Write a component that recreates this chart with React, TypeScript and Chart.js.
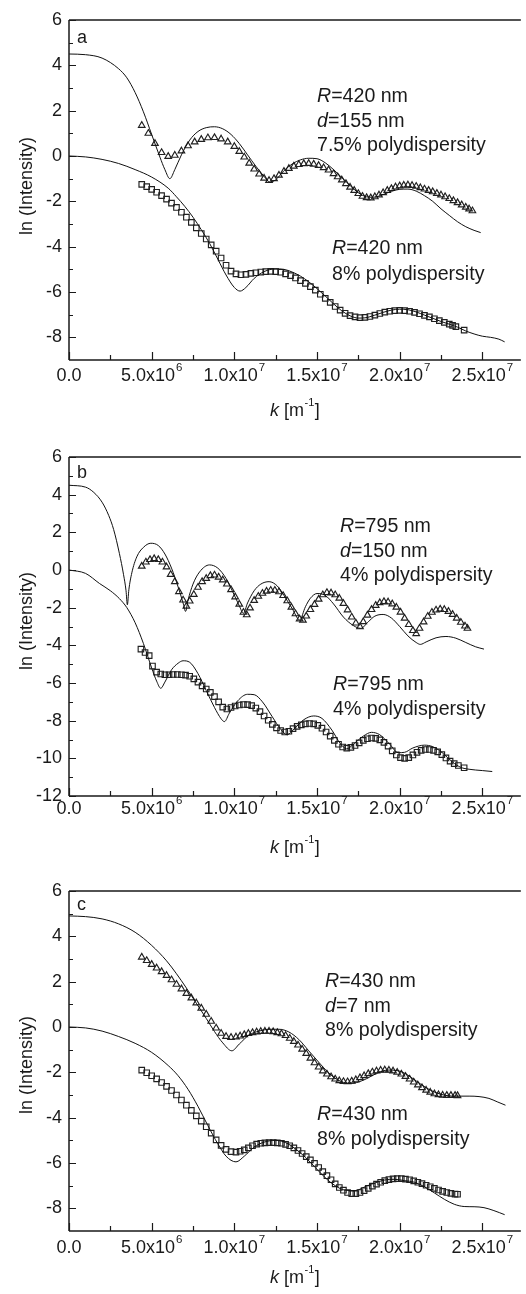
import React, { useEffect, useRef } from "react";
import { Chart, registerables } from "chart.js";

Chart.register(...registerables);

const FONT = "'Liberation Sans', Arial, Helvetica, sans-serif";
const INK = "#1a1a1a";
const K_UNIT = 1e6; // k arrays below are in units of 1e6 m^-1

// ---------- axis ticks ----------
const xTickValues = [0, 5e6, 1e7, 1.5e7, 2e7, 2.5e7];
const xTickBase = ["0.0", "5.0x10", "1.0x10", "1.5x10", "2.0x10", "2.5x10"];
const xTickExp = ["", "6", "7", "7", "7", "7"];
const xMinorValues = [2.5e6, 7.5e6, 1.25e7, 1.75e7, 2.25e7];
const yTicksAC = [-8, -6, -4, -2, 0, 2, 4, 6];
const yMinorAC = [-7, -5, -3, -1, 1, 3, 5];
const yTicksB = [-12, -10, -8, -6, -4, -2, 0, 2, 4, 6];
const yMinorB = [-11, -9, -7, -5, -3, -1, 1, 3, 5];

// ---------- panel a ----------
const kLineA1 = [0,1,2,3,3.5,4,4.5,5,5.5,5.8,6.1,6.4,6.8,7.3,7.8,8.3,8.8,9.3,9.8,10.3,10.8,11.3,11.8,12.15,12.5,13,13.5,14,14.5,15,15.5,16,16.5,17,17.5,18,18.4,19,19.5,20,20.5,21,21.5,22,22.5,23,23.5,24,24.5,24.9];
const lnLineA1 = [4.5,4.47,4.32,3.85,3.45,2.8,1.95,0.95,-0.05,-0.6,-1.0,-0.6,0.05,0.7,1.08,1.25,1.29,1.2,0.95,0.55,0.05,-0.45,-0.9,-1.15,-1.05,-0.65,-0.35,-0.17,-0.1,-0.12,-0.3,-0.6,-0.95,-1.3,-1.62,-1.8,-1.82,-1.7,-1.56,-1.47,-1.46,-1.55,-1.75,-2.0,-2.33,-2.62,-2.9,-3.12,-3.28,-3.38];
const kLineA2 = [0,1,2,3,4,5,6,6.5,7,7.5,8,8.5,9,9.5,10,10.35,10.7,11.2,11.8,12.5,13,13.5,14,14.5,15,15.5,16,16.5,17,17.5,17.9,18.5,19,19.5,20,20.5,21,21.5,22,22.5,23,23.5,24,24.5,25,25.5,26,26.35];
const lnLineA2 = [0,-0.04,-0.15,-0.33,-0.6,-0.93,-1.42,-1.8,-2.22,-2.7,-3.25,-3.85,-4.55,-5.25,-5.8,-5.96,-5.8,-5.4,-5.1,-4.98,-5.0,-5.12,-5.3,-5.55,-5.85,-6.18,-6.52,-6.83,-7.05,-7.15,-7.14,-7.02,-6.9,-6.8,-6.76,-6.78,-6.88,-7.02,-7.16,-7.3,-7.42,-7.55,-7.72,-7.85,-7.95,-8.0,-8.08,-8.2];
const kTriA = [4.4,4.8,5.2,5.6,6.0,6.4,6.8,7.2,7.6,8.0,8.4,8.8,9.2,9.6,10.0,10.3,10.6,10.9,11.2,11.5,11.8,12.1,12.4,12.7,13.0,13.3,13.6,13.9,14.2,14.5,14.8,15.1,15.4,15.7,16.0,16.25,16.5,16.75,17.0,17.25,17.5,17.75,18.0,18.25,18.5,18.75,19.0,19.25,19.5,19.75,20.0,20.25,20.5,20.75,21.0,21.25,21.5,21.75,22.0,22.25,22.5,22.75,23.0,23.25,23.5,23.75,24.0,24.2,24.4];
const lnTriA = [1.35,1.0,0.55,0.15,-0.02,0.03,0.22,0.45,0.62,0.73,0.8,0.81,0.75,0.62,0.42,0.2,-0.05,-0.32,-0.58,-0.8,-0.98,-1.08,-1.0,-0.85,-0.68,-0.55,-0.45,-0.38,-0.34,-0.33,-0.36,-0.42,-0.52,-0.62,-0.78,-0.92,-1.06,-1.22,-1.38,-1.52,-1.66,-1.78,-1.84,-1.85,-1.8,-1.72,-1.62,-1.52,-1.44,-1.37,-1.32,-1.29,-1.28,-1.3,-1.34,-1.4,-1.46,-1.52,-1.58,-1.65,-1.72,-1.8,-1.88,-1.97,-2.06,-2.16,-2.26,-2.34,-2.42];
const kSqA = [4.4,4.7,5.0,5.3,5.6,5.9,6.2,6.5,6.8,7.1,7.4,7.7,8.0,8.3,8.6,8.9,9.2,9.5,9.8,10.1,10.4,10.7,11.0,11.3,11.6,11.9,12.2,12.5,12.8,13.1,13.4,13.7,14.0,14.3,14.6,14.9,15.2,15.5,15.8,16.1,16.4,16.7,17.0,17.3,17.6,17.9,18.2,18.5,18.8,19.1,19.4,19.7,20.0,20.3,20.6,20.9,21.2,21.5,21.8,22.1,22.4,22.7,23.0,23.2,23.4,23.9];
const lnSqA = [-1.25,-1.35,-1.47,-1.6,-1.75,-1.9,-2.08,-2.27,-2.48,-2.7,-2.93,-3.17,-3.42,-3.66,-3.92,-4.2,-4.5,-4.82,-5.08,-5.2,-5.24,-5.22,-5.18,-5.15,-5.12,-5.1,-5.09,-5.1,-5.13,-5.2,-5.28,-5.38,-5.5,-5.62,-5.76,-5.92,-6.1,-6.28,-6.46,-6.64,-6.8,-6.94,-7.04,-7.1,-7.13,-7.12,-7.08,-7.02,-6.95,-6.89,-6.85,-6.82,-6.81,-6.82,-6.85,-6.9,-6.96,-7.03,-7.1,-7.18,-7.26,-7.34,-7.42,-7.47,-7.53,-7.68];

// ---------- panel b ----------
const kLineB1 = [0,1,1.5,2,2.4,2.7,3.05,3.3,3.45,3.53,3.62,3.8,4.1,4.5,4.95,5.4,5.8,6.2,6.6,6.9,7.05,7.2,7.5,7.9,8.5,9.0,9.5,9.9,10.3,10.55,10.8,11.2,11.6,12.1,12.6,13.0,13.5,13.95,14.3,14.6,15.0,15.5,16.0,16.6,17.2,17.65,18.1,18.5,19.0,19.5,20.0,20.5,21.0,21.25,21.6,22.2,22.8,23.4,24.0,24.6,25.1];
const lnLineB1 = [4.5,4.4,4.12,3.6,2.9,2.15,0.87,-0.25,-1.1,-1.85,-1.05,-0.15,0.7,1.2,1.42,1.3,0.85,0.1,-0.9,-1.75,-2.2,-1.6,-0.75,-0.1,0.27,0.1,-0.45,-1.15,-1.9,-2.3,-1.75,-1.1,-0.75,-0.62,-0.85,-1.35,-2.05,-2.65,-1.95,-1.5,-1.25,-1.35,-1.8,-2.5,-2.95,-3.1,-2.75,-2.45,-2.36,-2.55,-3.0,-3.5,-3.85,-3.95,-3.82,-3.6,-3.53,-3.62,-3.85,-4.08,-4.2];
const kLineB2 = [0,1,1.85,2.5,3.05,3.5,4.0,4.5,5.0,5.3,5.55,5.8,6.2,6.6,6.9,7.3,7.8,8.3,8.8,9.2,9.4,9.7,10.2,10.8,11.2,11.7,12.3,12.8,13.2,13.6,14.2,14.8,15.3,15.9,16.4,16.8,17.2,17.8,18.3,18.8,19.4,19.9,20.3,20.8,21.5,22.0,22.6,23.2,23.7,24.2,25.0,25.6];
const lnLineB2 = [0,-0.18,-0.72,-1.1,-1.52,-2.0,-2.8,-3.9,-5.2,-5.9,-6.28,-5.95,-5.3,-4.95,-4.82,-4.9,-5.5,-6.4,-7.3,-7.9,-8.05,-7.6,-6.95,-6.6,-6.62,-7.0,-7.8,-8.45,-8.75,-8.45,-7.95,-7.75,-7.88,-8.5,-9.2,-9.5,-9.25,-8.82,-8.62,-8.75,-9.25,-9.7,-9.68,-9.45,-9.3,-9.38,-9.72,-10.2,-10.48,-10.58,-10.65,-10.7];
const kTriB = [4.40,4.65,4.90,5.15,5.40,5.65,5.90,6.15,6.40,6.65,6.90,7.10,7.30,7.55,7.80,8.05,8.30,8.55,8.80,9.05,9.30,9.55,9.80,10.05,10.30,10.55,10.75,10.95,11.20,11.45,11.70,11.95,12.20,12.45,12.70,12.95,13.20,13.45,13.70,13.95,14.15,14.35,14.60,14.85,15.10,15.35,15.60,15.85,16.10,16.35,16.60,16.85,17.10,17.35,17.60,17.80,18.05,18.30,18.55,18.80,19.05,19.30,19.55,19.80,20.05,20.30,20.55,20.80,21.00,21.20,21.45,21.70,21.95,22.20,22.45,22.70,22.95,23.20,23.45,23.70,23.95,24.10];
const lnTriB = [0.20,0.42,0.55,0.60,0.55,0.42,0.16,-0.24,-0.62,-1.15,-1.60,-1.92,-1.65,-1.30,-0.92,-0.62,-0.45,-0.30,-0.27,-0.38,-0.53,-0.75,-1.05,-1.43,-1.82,-2.25,-2.38,-2.02,-1.62,-1.40,-1.24,-1.13,-1.08,-1.08,-1.16,-1.36,-1.64,-1.98,-2.33,-2.60,-2.67,-2.45,-2.10,-1.83,-1.55,-1.32,-1.20,-1.22,-1.32,-1.50,-1.78,-2.12,-2.50,-2.82,-3.02,-2.75,-2.40,-2.10,-1.88,-1.74,-1.68,-1.70,-1.80,-1.98,-2.24,-2.56,-2.90,-3.22,-3.38,-3.10,-2.76,-2.46,-2.25,-2.13,-2.08,-2.10,-2.20,-2.36,-2.56,-2.78,-2.98,-3.10];
const kSqB = [4.35,4.6,4.85,5.05,5.3,5.55,5.8,6.05,6.3,6.55,6.8,7.05,7.3,7.55,7.8,8.05,8.3,8.55,8.8,9.05,9.3,9.55,9.8,10.05,10.3,10.55,10.8,11.05,11.3,11.55,11.8,12.05,12.3,12.55,12.8,13.05,13.3,13.55,13.8,14.05,14.3,14.55,14.8,15.05,15.3,15.55,15.8,16.05,16.3,16.55,16.8,17.05,17.3,17.55,17.8,18.05,18.3,18.55,18.8,19.05,19.3,19.55,19.8,20.05,20.3,20.55,20.8,21.05,21.3,21.55,21.8,22.05,22.3,22.55,22.8,23.05,23.3,23.55,23.9];
const lnSqB = [-4.2,-4.38,-4.55,-5.1,-5.42,-5.52,-5.56,-5.56,-5.55,-5.55,-5.56,-5.58,-5.64,-5.78,-5.95,-6.15,-6.32,-6.5,-6.72,-7.0,-7.28,-7.38,-7.3,-7.22,-7.17,-7.14,-7.15,-7.2,-7.33,-7.52,-7.75,-7.98,-8.2,-8.38,-8.52,-8.6,-8.56,-8.42,-8.3,-8.22,-8.17,-8.15,-8.17,-8.25,-8.4,-8.6,-8.82,-9.05,-9.25,-9.4,-9.46,-9.42,-9.32,-9.18,-9.05,-8.96,-8.92,-8.94,-9.02,-9.15,-9.35,-9.6,-9.82,-9.96,-10.0,-9.96,-9.82,-9.68,-9.58,-9.53,-9.53,-9.58,-9.66,-9.8,-9.98,-10.15,-10.28,-10.38,-10.5];

// ---------- panel c ----------
const kLineC1 = [0,1,2,3,4,5,5.9,6.5,7.1,7.7,8.3,8.8,9.3,9.85,10.3,10.9,11.5,12.2,12.7,13.3,13.9,14.5,15.1,15.7,16.3,16.9,17.4,18.0,18.6,19.3,19.9,20.4,21.0,21.6,22.2,22.8,23.5,24.2,24.8,25.4,25.9,26.4];
const lnLineC1 = [4.9,4.87,4.77,4.55,4.18,3.6,2.92,2.35,1.72,1.05,0.38,-0.2,-0.7,-1.05,-0.75,-0.35,-0.18,-0.1,-0.1,-0.22,-0.55,-1.05,-1.55,-2.02,-2.35,-2.48,-2.45,-2.28,-2.05,-1.9,-1.93,-2.08,-2.38,-2.68,-2.9,-3.02,-3.05,-3.05,-3.07,-3.15,-3.3,-3.45];
const kLineC2 = [0,1,2,3,4,5,6,6.6,7.2,7.8,8.4,9.0,9.5,10.1,10.6,11.2,11.8,12.5,13.1,13.7,14.3,14.9,15.5,16.1,16.7,17.3,17.9,18.5,19.1,19.7,20.3,20.9,21.5,22.1,22.7,23.3,23.9,24.5,25.1,25.7,26.35];
const lnLineC2 = [0,-0.04,-0.18,-0.42,-0.72,-1.12,-1.7,-2.15,-2.75,-3.5,-4.35,-5.15,-5.7,-5.95,-5.7,-5.3,-5.08,-5.0,-5.1,-5.38,-5.75,-6.2,-6.65,-7.0,-7.2,-7.22,-7.05,-6.88,-6.75,-6.72,-6.78,-6.85,-7.05,-7.32,-7.6,-7.82,-7.92,-7.93,-7.97,-8.1,-8.28];
const kMarkC = [4.4,4.7,5.0,5.3,5.6,5.9,6.2,6.5,6.8,7.1,7.4,7.7,8.0,8.3,8.6,8.9,9.2,9.5,9.8,10.1,10.35,10.6,10.85,11.1,11.35,11.6,11.85,12.1,12.35,12.6,12.85,13.1,13.35,13.6,13.85,14.1,14.35,14.6,14.85,15.1,15.35,15.6,15.85,16.1,16.35,16.6,16.85,17.1,17.35,17.6,17.85,18.1,18.35,18.6,18.85,19.1,19.35,19.6,19.85,20.1,20.35,20.6,20.85,21.1,21.35,21.6,21.85,22.1,22.35,22.6,22.85,23.1,23.35,23.5];
const lnTriC = [3.08,2.93,2.76,2.6,2.44,2.27,2.08,1.88,1.68,1.48,1.28,1.06,0.83,0.56,0.25,-0.05,-0.28,-0.42,-0.46,-0.44,-0.4,-0.34,-0.29,-0.25,-0.22,-0.2,-0.19,-0.19,-0.21,-0.25,-0.3,-0.38,-0.5,-0.64,-0.8,-0.98,-1.17,-1.38,-1.58,-1.77,-1.94,-2.08,-2.2,-2.3,-2.37,-2.41,-2.42,-2.39,-2.33,-2.24,-2.15,-2.06,-1.99,-1.94,-1.91,-1.9,-1.91,-1.94,-2.0,-2.08,-2.18,-2.3,-2.43,-2.56,-2.68,-2.79,-2.88,-2.95,-2.99,-3.01,-3.02,-3.02,-3.02,-3.03];
const lnSqC = [-1.9,-2.02,-2.15,-2.29,-2.45,-2.62,-2.8,-3.0,-3.22,-3.45,-3.68,-3.92,-4.15,-4.4,-4.68,-4.98,-5.22,-5.4,-5.5,-5.52,-5.48,-5.42,-5.33,-5.24,-5.17,-5.13,-5.11,-5.1,-5.1,-5.11,-5.13,-5.18,-5.24,-5.33,-5.45,-5.58,-5.72,-5.86,-6.02,-6.2,-6.38,-6.56,-6.74,-6.92,-7.08,-7.2,-7.3,-7.35,-7.35,-7.3,-7.22,-7.12,-7.02,-6.93,-6.85,-6.78,-6.73,-6.7,-6.69,-6.69,-6.71,-6.74,-6.79,-6.85,-6.91,-6.98,-7.05,-7.12,-7.19,-7.25,-7.3,-7.34,-7.37,-7.38];

const X_MAX = 2.733e7;

type Seg = { t: string; it?: boolean };

const pts = (ks: number[], vs: number[]) => ks.map((k, i) => ({ x: k * K_UNIT, y: vs[i] }));

const lineDs = (ks: number[], vs: number[]) => ({
  data: pts(ks, vs),
  showLine: true,
  pointRadius: 0,
  borderColor: "#111",
  borderWidth: 1,
  tension: 0.4,
  cubicInterpolationMode: "monotone",
  fill: false,
});

const markDs = (ks: number[], vs: number[], style: string, r: number) => ({
  data: pts(ks, vs),
  showLine: false,
  pointStyle: style,
  pointRadius: r,
  borderColor: "#202020",
  backgroundColor: "rgba(0,0,0,0)",
  borderWidth: 1.15,
});

function drawSegs(ctx: CanvasRenderingContext2D, segs: Seg[], x: number, y: number, size: number) {
  let cx = x;
  for (const s of segs) {
    ctx.font = `${s.it ? "italic " : ""}${size}px ${FONT}`;
    ctx.fillText(s.t, cx, y);
    cx += ctx.measureText(s.t).width;
  }
}

const decorPlugin = {
  id: "decor",
  afterDraw(chart: any, _a: any, o: any) {
    const { ctx, chartArea } = chart;
    const { left, right, top, bottom } = chartArea;
    const xs = chart.scales.x;
    const ys = chart.scales.y;
    ctx.save();
    // frame
    ctx.strokeStyle = INK;
    ctx.lineWidth = 1.5;
    ctx.beginPath();
    ctx.moveTo(left, top);
    ctx.lineTo(right, top);
    ctx.moveTo(left, top);
    ctx.lineTo(left, bottom);
    ctx.moveTo(left, bottom);
    ctx.lineTo(right, bottom);
    ctx.stroke();
    // ticks (inward)
    ctx.lineWidth = 1.2;
    ctx.beginPath();
    o.yMajor.forEach((v: number) => {
      const py = Math.round(ys.getPixelForValue(v)) + 0.5;
      ctx.moveTo(left, py);
      ctx.lineTo(left + 7, py);
    });
    o.yMinor.forEach((v: number) => {
      const py = Math.round(ys.getPixelForValue(v)) + 0.5;
      ctx.moveTo(left, py);
      ctx.lineTo(left + 4, py);
    });
    xTickValues.forEach((v) => {
      const px = Math.round(xs.getPixelForValue(v)) + 0.5;
      ctx.moveTo(px, bottom);
      ctx.lineTo(px, bottom - 8);
    });
    xMinorValues.forEach((v) => {
      const px = Math.round(xs.getPixelForValue(v)) + 0.5;
      ctx.moveTo(px, bottom);
      ctx.lineTo(px, bottom - 5);
    });
    ctx.stroke();

    ctx.fillStyle = INK;
    ctx.textBaseline = "middle";
    ctx.textAlign = "left";
    // x tick labels with superscript exponents
    xTickValues.forEach((v, i) => {
      const px = xs.getPixelForValue(v);
      ctx.font = `18px ${FONT}`;
      const wb = ctx.measureText(xTickBase[i]).width;
      ctx.font = `11.5px ${FONT}`;
      const ws = xTickExp[i] ? ctx.measureText(xTickExp[i]).width + 1 : 0;
      const x0 = px - (wb + ws) / 2;
      const ty = bottom + o.tickDy;
      ctx.font = `18px ${FONT}`;
      ctx.fillText(xTickBase[i], x0, ty);
      if (xTickExp[i]) {
        ctx.font = `11.5px ${FONT}`;
        ctx.fillText(xTickExp[i], x0 + wb + 1, ty - 8);
      }
    });
    // x title: k [m^-1]
    {
      const ty = bottom + o.titleDy;
      ctx.font = `italic 18px ${FONT}`;
      const w1 = ctx.measureText("k").width;
      ctx.font = `18px ${FONT}`;
      const w2 = ctx.measureText(" [m").width;
      const w4 = ctx.measureText("]").width;
      ctx.font = `11px ${FONT}`;
      const w3 = ctx.measureText("-1").width + 1;
      let cx = (left + right) / 2 - (w1 + w2 + w3 + w4) / 2;
      ctx.font = `italic 18px ${FONT}`;
      ctx.fillText("k", cx, ty);
      cx += w1;
      ctx.font = `18px ${FONT}`;
      ctx.fillText(" [m", cx, ty);
      cx += w2;
      ctx.font = `11px ${FONT}`;
      ctx.fillText("-1", cx + 0.5, ty - 8);
      cx += w3;
      ctx.font = `18px ${FONT}`;
      ctx.fillText("]", cx, ty);
    }
    // y title
    ctx.save();
    ctx.translate(27, o.yTitleY);
    ctx.rotate(-Math.PI / 2);
    ctx.textAlign = "center";
    ctx.font = `18px ${FONT}`;
    ctx.fillText("ln (Intensity)", 0, 0);
    ctx.restore();
    // panel letter
    ctx.font = `18px ${FONT}`;
    ctx.fillText(o.letter, 77, o.letterY);
    // annotations
    o.notes.forEach((n: any) => {
      n.lines.forEach((segs: Seg[], j: number) => {
        drawSegs(ctx, segs, n.x, n.y + j * n.gap, 19.6);
      });
    });
    ctx.restore();
  },
};

const panels = [
  {
    height: 430, top: 20, bottom: 360, yMin: -9, yMax: 6,
    yMajor: yTicksAC, yMinor: yMinorAC,
    tickDy: 16, titleDy: 51, yTitleY: 186, letter: "a", letterY: 38,
    datasets: [
      lineDs(kLineA1, lnLineA1), lineDs(kLineA2, lnLineA2),
      markDs(kTriA, lnTriA, "triangle", 3.8), markDs(kSqA, lnSqA, "rect", 3.9),
    ],
    notes: [
      { x: 317, y: 97, gap: 24.5, lines: [[{ t: "R", it: true }, { t: "=420 nm" }], [{ t: "d", it: true }, { t: "=155 nm" }], [{ t: "7.5% polydispersity" }]] },
      { x: 332, y: 249, gap: 26, lines: [[{ t: "R", it: true }, { t: "=420 nm" }], [{ t: "8% polydispersity" }]] },
    ],
  },
  {
    height: 430, top: 27, bottom: 366, yMin: -12, yMax: 6,
    yMajor: yTicksB, yMinor: yMinorB,
    tickDy: 13, titleDy: 52, yTitleY: 191, letter: "b", letterY: 43,
    datasets: [
      lineDs(kLineB1, lnLineB1), lineDs(kLineB2, lnLineB2),
      markDs(kTriB, lnTriB, "triangle", 3.8), markDs(kSqB, lnSqB, "rect", 3.9),
    ],
    notes: [
      { x: 340, y: 97, gap: 24.2, lines: [[{ t: "R", it: true }, { t: "=795 nm" }], [{ t: "d", it: true }, { t: "=150 nm" }], [{ t: "4% polydispersity" }]] },
      { x: 333, y: 255, gap: 25, lines: [[{ t: "R", it: true }, { t: "=795 nm" }], [{ t: "4% polydispersity" }]] },
    ],
  },
  {
    height: 434, top: 31, bottom: 371, yMin: -9, yMax: 6,
    yMajor: yTicksAC, yMinor: yMinorAC,
    tickDy: 17, titleDy: 47, yTitleY: 205, letter: "c", letterY: 45,
    datasets: [
      lineDs(kLineC1, lnLineC1), lineDs(kLineC2, lnLineC2),
      markDs(kMarkC, lnTriC, "triangle", 3.8), markDs(kMarkC, lnSqC, "rect", 3.9),
    ],
    notes: [
      { x: 325, y: 122, gap: 24.5, lines: [[{ t: "R", it: true }, { t: "=430 nm" }], [{ t: "d", it: true }, { t: "=7 nm" }], [{ t: "8% polydispersity" }]] },
      { x: 317, y: 255, gap: 24.5, lines: [[{ t: "R", it: true }, { t: "=430 nm" }], [{ t: "8% polydispersity" }]] },
    ],
  },
];

function Panel({ cfg }: { cfg: any }) {
  const ref = useRef<HTMLCanvasElement>(null);
  useEffect(() => {
    if (!ref.current) return;
    const chart = new Chart(ref.current, {
      type: "scatter",
      data: { datasets: cfg.datasets },
      options: {
        animation: false,
        responsive: false,
        devicePixelRatio: 1,
        events: [],
        layout: { padding: { top: cfg.top, left: 0, right: 0, bottom: 0 } },
        plugins: {
          legend: { display: false },
          tooltip: { enabled: false },
          decor: {
            yMajor: cfg.yMajor, yMinor: cfg.yMinor, tickDy: cfg.tickDy, titleDy: cfg.titleDy,
            yTitleY: cfg.yTitleY, letter: cfg.letter, letterY: cfg.letterY, notes: cfg.notes,
          },
        },
        scales: {
          x: {
            type: "linear", min: 0, max: X_MAX,
            grid: { display: false, drawTicks: false },
            border: { display: false },
            ticks: { display: false },
            afterFit: (s: any) => { s.height = cfg.height - cfg.bottom; },
          },
          y: {
            type: "linear", min: cfg.yMin, max: cfg.yMax,
            grid: { display: false, drawTicks: false },
            border: { display: false },
            afterBuildTicks: (s: any) => { s.ticks = cfg.yMajor.map((v: number) => ({ value: v })); },
            ticks: {
              padding: 7, color: INK, font: { family: FONT, size: 18 },
              callback: (v: any) => String(v),
            },
            afterFit: (s: any) => { s.width = 69; },
          },
        },
      } as any,
      plugins: [decorPlugin as any],
    });
    return () => chart.destroy();
  }, [cfg]);
  return (
    <canvas
      ref={ref}
      width={526}
      height={cfg.height}
      style={{ display: "block", width: 526, height: cfg.height }}
    />
  );
}

export default function App() {
  return (
    <div style={{ position: "absolute", left: 0, top: 0, width: 526, background: "#fff" }}>
      {panels.map((p, i) => (
        <Panel key={i} cfg={p} />
      ))}
    </div>
  );
}
